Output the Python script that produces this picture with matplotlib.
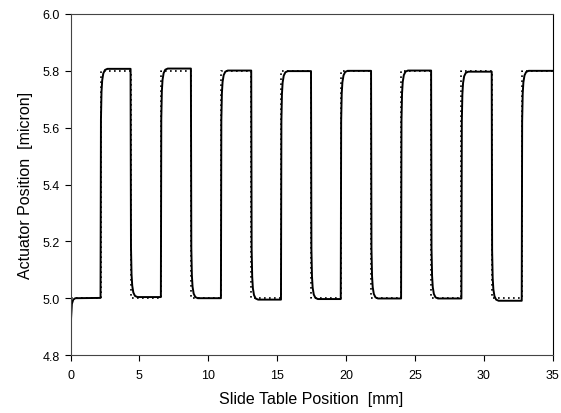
import numpy as np
import matplotlib
matplotlib.use("Agg")
import matplotlib.pyplot as plt

plt.rcParams['font.family'] = ['Liberation Sans', 'DejaVu Sans']

# edge positions [mm]
rise_x = [2.18, 6.56, 10.92, 15.28, 19.62, 24.00, 28.38, 32.76]
fall_x = [4.36, 8.74, 13.12, 17.46, 21.82, 26.18, 30.58]
# measured plateau levels [micron]
high_y = [5.807, 5.808, 5.801, 5.799, 5.800, 5.801, 5.797, 5.800]
low_y = [5.001, 5.004, 5.000, 4.995, 4.997, 4.999, 4.999, 4.991]
# shape of measured response after an edge
step_dx = [0.0, 0.03, 0.07, 0.12, 0.2, 0.32, 0.5]
step_frac = [0.0, 0.78, 0.9, 0.95, 0.98, 0.995, 1.0]
# start-up
start_x = [0.0, 0.04, 0.1, 0.2, 0.35]
start_y = [4.80, 4.93, 4.98, 4.995, 5.0]
x_end = 35.0
cmd_low = 5.0
cmd_high = 5.8

# commanded (dotted)
cx, cy = [0.0], [cmd_low]
for i in range(len(rise_x)):
    cx += [rise_x[i], rise_x[i]]
    cy += [cmd_low, cmd_high]
    if i < len(fall_x):
        cx += [fall_x[i], fall_x[i]]
        cy += [cmd_high, cmd_low]
cx.append(x_end)
cy.append(cmd_high)

# measured (solid)
mx, my = list(start_x), list(start_y)
for i in range(len(rise_x)):
    mx.append(rise_x[i]); my.append(low_y[i])
    for dx, f in zip(step_dx, step_frac):
        mx.append(rise_x[i] + dx); my.append(low_y[i] + f * (high_y[i] - low_y[i]))
    if i < len(fall_x):
        mx.append(fall_x[i]); my.append(high_y[i])
        for dx, f in zip(step_dx, step_frac):
            mx.append(fall_x[i] + dx); my.append(high_y[i] + f * (low_y[i + 1] - high_y[i]))
mx.append(x_end); my.append(high_y[-1])

fig = plt.figure(figsize=(5.61, 4.14), dpi=100)
ax = fig.add_axes([0.1257, 0.140, 0.8593, 0.8238])
ax.plot(cx, cy, color='k', linestyle=(0, (1, 2)), linewidth=1.2)
ax.plot(mx, my, color='k', linewidth=1.4)

ax.set_xlim(0, 35)
ax.set_ylim(4.8, 6.0)
ax.set_xticks(np.arange(0, 36, 5))
ax.set_yticks(np.arange(4.8, 6.01, 0.2))
ax.set_yticklabels(['%.1f' % v for v in np.arange(4.8, 6.01, 0.2)])
ax.tick_params(direction='out', length=4, width=0.8, labelsize=9, colors='k')
ax.tick_params(axis='x', pad=6)
for s in ax.spines.values():
    s.set_linewidth(0.8)
    s.set_color('#444444')
ax.spines['right'].set_color('k')
ax.set_xlabel('Slide Table Position  [mm]', fontsize=11.5, labelpad=7)
ax.set_ylabel('Actuator Position  [micron]', fontsize=11.5, labelpad=7)

fig.savefig('out.png', dpi=100)
